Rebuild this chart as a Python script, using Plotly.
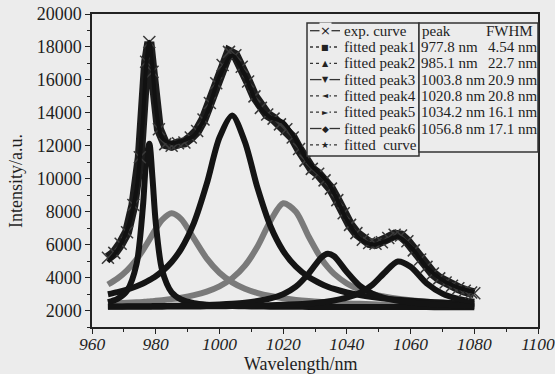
import plotly.graph_objects as go

# ---------------- data ----------------
wavelength = [965, 968, 971, 974, 976, 977, 978, 979, 980, 982, 985, 988, 992, 996,
              1000, 1004, 1008, 1012, 1016, 1020, 1024, 1028, 1032, 1034, 1036, 1040,
              1044, 1048, 1052, 1056, 1060, 1065, 1070, 1075, 1080]

peak1 = [2505, 2709, 3203, 4830, 8340, 11095, 12123, 10017, 7357, 4461, 3104, 2672, 2449, 2353,
         2303, 2275, 2256, 2244, 2235, 2229, 2224, 2220, 2218, 2216, 2215, 2213, 2212, 2210,
         2209, 2208, 2208, 2207, 2206, 2205, 2205]
peak2 = [3578, 3943, 4441, 5113, 5669, 5977, 6298, 6622, 6942, 7504, 7900, 7551, 6361, 5166,
         4293, 3711, 3324, 3061, 2878, 2745, 2647, 2573, 2515, 2491, 2470, 2434, 2404, 2380,
         2359, 2342, 2328, 2313, 2300, 2290, 2280]
peak3 = [2988, 3114, 3274, 3476, 3642, 3737, 3841, 3957, 4083, 4377, 4949, 5745, 7321, 9682,
         12491, 13845, 12230, 9410, 7130, 5623, 4660, 4031, 3607, 3446, 3310, 3096, 2937, 2817,
         2723, 2649, 2589, 2530, 2483, 2446, 2415]
peak4 = [2413, 2437, 2465, 2499, 2525, 2539, 2554, 2570, 2587, 2626, 2694, 2780, 2932, 3150,
         3470, 3959, 4726, 5901, 7435, 8512, 8001, 6493, 5141, 4633, 4225, 3641, 3263, 3010,
         2835, 2710, 2618, 2533, 2472, 2426, 2390]
peak5 = [2243, 2247, 2252, 2257, 2261, 2263, 2265, 2268, 2270, 2275, 2285, 2296, 2314, 2338,
         2371, 2416, 2480, 2578, 2732, 2991, 3447, 4240, 5224, 5449, 5295, 4339, 3509, 3025,
         2752, 2590, 2488, 2408, 2356, 2322, 2297]
peak6 = [2224, 2226, 2228, 2230, 2231, 2232, 2233, 2233, 2234, 2236, 2239, 2243, 2248, 2254,
         2262, 2272, 2283, 2298, 2318, 2344, 2378, 2427, 2498, 2545, 2605, 2776, 3064, 3560,
         4329, 4976, 4656, 3658, 3028, 2706, 2535]
fitted_curve = [4951, 5676, 6863, 9405, 13668, 16843, 18314, 16667, 14473, 12479, 12171, 12287,
                12625, 13943, 16190, 17478, 16299, 14492, 13728, 13444, 12357, 10984, 10203,
                9780, 9120, 7499, 6389, 6002, 6207, 6475, 5887, 4649, 3845, 3395, 3122]

exp_wavelength = [965, 967, 969, 971, 973, 975, 977, 978, 979, 981, 983, 985, 987, 989, 991,
                  993, 995, 997, 999, 1001, 1003, 1005, 1007, 1009, 1011, 1013, 1015, 1017,
                  1019, 1021, 1023, 1025, 1027, 1029, 1031, 1033, 1035, 1037, 1039, 1041,
                  1043, 1045, 1047, 1049, 1051, 1053, 1055, 1057, 1059, 1061, 1063, 1065,
                  1067, 1069, 1071, 1073, 1075, 1077, 1079, 1080]
exp_curve = [5200, 5500, 6050, 6750, 8400, 11300, 17100, 18300, 16500, 13000, 12100, 12000,
             12150, 12200, 12500, 12900, 13600, 14600, 15800, 16900, 17700, 17500, 16800,
             15900, 15000, 14300, 13900, 13650, 13300, 13000, 12500, 11800, 11100, 10600,
             10300, 9900, 9400, 8700, 7900, 7200, 6700, 6300, 6100, 6050, 6150, 6400, 6600,
             6550, 6200, 5650, 5100, 4650, 4250, 3950, 3700, 3500, 3350, 3200, 3100, 3050]

legend_labels = ["exp. curve", "fitted peak1", "fitted peak2", "fitted peak3",
                 "fitted peak4", "fitted peak5", "fitted peak6", "fitted\u00a0\u00a0curve"]
peak_positions = ["977.8 nm", "985.1 nm", "1003.8 nm", "1020.8 nm", "1034.2 nm", "1056.8 nm"]
peak_fwhm = ["4.54 nm", "22.7 nm", "20.9 nm", "20.8 nm", "16.1 nm", "17.1 nm"]

# ---------------- styling ----------------
SERIF = "Liberation Serif"
BG = "#ececec"
INK = "#1e1e1e"
BLACK = "#141414"
GRAY = "#7a7a7a"

# plot-area pixel frame
L, R, T, B = 92, 538, 14, 327


def px(x):
    return (x - L) / (R - L)


def py(y):
    return (B - y) / (B - T)


fig = go.Figure()

peak_series = [(peak2, GRAY), (peak4, GRAY), (peak1, BLACK), (peak3, BLACK),
               (peak5, BLACK), (peak6, BLACK)]
for vals, col in peak_series:
    fig.add_trace(go.Scatter(x=wavelength, y=vals, mode="lines",
                             line=dict(color=col, width=6, shape="spline", smoothing=0.8),
                             showlegend=False, hoverinfo="skip"))

fig.add_trace(go.Scatter(x=exp_wavelength, y=exp_curve, mode="lines+markers",
                         line=dict(color="#1c1c1c", width=10),
                         marker=dict(symbol="x-thin", size=12,
                                     line=dict(color="#3a3a3a", width=1.5)),
                         showlegend=False, hoverinfo="skip"))
fig.add_trace(go.Scatter(x=wavelength, y=fitted_curve, mode="lines",
                         line=dict(color="#111111", width=4, shape="spline", smoothing=0.8),
                         showlegend=False, hoverinfo="skip"))

shapes = []
annotations = []

# legend box and table box
shapes.append(dict(type="rect", xref="paper", yref="paper",
                   x0=px(307), x1=px(419), y0=py(156), y1=py(23),
                   line=dict(color="#333333", width=1.5), fillcolor=BG, layer="above"))
shapes.append(dict(type="rect", xref="paper", yref="paper",
                   x0=px(419), x1=px(538), y0=py(152), y1=py(23),
                   line=dict(color="#333333", width=1.5), fillcolor=BG, layer="above"))

row0, step = 30.7, 16.3
glyphs = ["\u00d7", "\u25a0", "\u25b2", "\u25bc", "\u25c4", "\u25ba", "\u25c6", "\u2605"]
dashes = ["solid", "dot", "dot", "solid", "dot", "dot", "solid", "dot"]
gl_sizes = [13, 8, 8, 8, 8, 8, 9, 9]
for i, lab in enumerate(legend_labels):
    yy = row0 + i * step
    shapes.append(dict(type="line", xref="paper", yref="paper",
                       x0=px(310), x1=px(340), y0=py(yy), y1=py(yy),
                       line=dict(color="#333333", width=1.3, dash=dashes[i]), layer="above"))
    annotations.append(dict(x=px(325), y=py(yy), xref="paper", yref="paper",
                            text=glyphs[i], showarrow=False, xanchor="center",
                            yanchor="middle", bgcolor=BG, borderpad=0,
                            font=dict(family="DejaVu Sans", size=gl_sizes[i], color="#222")))
    annotations.append(dict(x=px(342), y=py(yy), xref="paper", yref="paper",
                            text=lab, showarrow=False, xanchor="left", yanchor="middle",
                            font=dict(family=SERIF, size=15, color=INK)))

# table
annotations.append(dict(x=px(420), y=py(row0), xref="paper", yref="paper", text="peak",
                        showarrow=False, xanchor="left", yanchor="middle",
                        font=dict(family=SERIF, size=15, color=INK)))
annotations.append(dict(x=px(535), y=py(row0), xref="paper", yref="paper", text="FWHM",
                        showarrow=False, xanchor="right", yanchor="middle",
                        font=dict(family=SERIF, size=15, color=INK)))
for i, (pp, fw) in enumerate(zip(peak_positions, peak_fwhm)):
    yy = row0 + (i + 1) * step
    annotations.append(dict(x=px(419), y=py(yy), xref="paper", yref="paper", text=pp,
                            showarrow=False, xanchor="left", yanchor="middle",
                            font=dict(family=SERIF, size=15, color=INK)))
    annotations.append(dict(x=px(540), y=py(yy), xref="paper", yref="paper", text=fw,
                            showarrow=False, xanchor="right", yanchor="middle",
                            font=dict(family=SERIF, size=15, color=INK)))

# axis titles
annotations.append(dict(x=px(301), y=py(364), xref="paper", yref="paper",
                        text="Wavelength/nm", showarrow=False, xanchor="center",
                        yanchor="middle", font=dict(family=SERIF, size=18, color=INK)))
annotations.append(dict(x=px(16), y=py(181), xref="paper", yref="paper",
                        text="Intensity/a.u.", showarrow=False, xanchor="center",
                        yanchor="middle", textangle=-90,
                        font=dict(family=SERIF, size=18, color=INK)))

axis_common = dict(showline=True, linecolor="#222222", linewidth=1.5, mirror=True,
                   ticks="outside", ticklen=5, tickwidth=1.3, tickcolor="#222222",
                   showgrid=False, zeroline=False, tickformat="d", automargin=False)

fig.update_layout(
    width=555, height=374,
    margin=dict(l=L, r=555 - R, t=T, b=374 - B, autoexpand=False),
    paper_bgcolor=BG, plot_bgcolor=BG,
    showlegend=False,
    xaxis=dict(range=[960, 1100], tick0=960, dtick=20, ticklabelstandoff=-5,
               ticklabeloverflow="allow",
               tickfont=dict(family=SERIF, size=17.5, color=INK, style="italic"),
               minor=dict(dtick=10, ticks="outside", ticklen=3, tickcolor="#222222"),
               **axis_common),
    yaxis=dict(range=[1000, 20000], tick0=0, dtick=2000,
               tickfont=dict(family=SERIF, size=18, color=INK),
               minor=dict(dtick=1000, ticks="outside", ticklen=3, tickcolor="#222222"),
               **axis_common),
    shapes=shapes,
    annotations=annotations,
)

fig.write_html("out.html")
